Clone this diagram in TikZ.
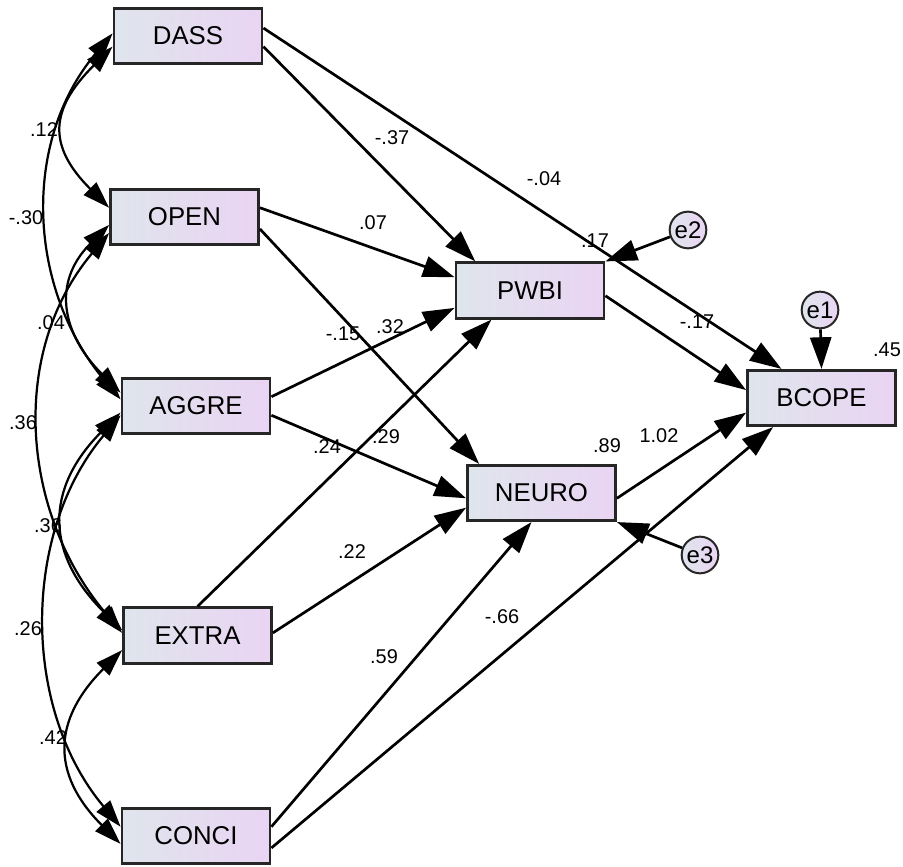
\documentclass[tikz,border=0pt]{standalone}
\usepackage{fontspec}
\setmainfont{Liberation Sans}
\usetikzlibrary{arrows.meta}
\definecolor{boxL}{RGB}{223,229,236}
\definecolor{boxR}{RGB}{234,212,243}
\begin{document}
\begin{tikzpicture}[
		x=0.03cm, y=0.03cm,
		var/.style = {rectangle, draw=black!85, line width=2.4pt, left color=boxL, right color=boxR, minimum width=4.44cm, minimum height=1.66cm, inner sep=0pt, font=\fontsize{22}{24}\selectfont},
		err/.style = {circle, draw=black!85, line width=1.7pt, left color=boxL, right color=boxR, minimum size=1.1cm, inner sep=0pt, font=\fontsize{20.5}{22}\selectfont},
		reg/.style = {-{Triangle[length=27pt, width=18pt]}, line width=2.3pt},
		cov/.style = {{Triangle[length=23pt, width=15pt]}-{Triangle[length=23pt, width=15pt]}, line width=1.9pt},
		est/.style = {inner sep=0pt, font=\fontsize{17}{19}\selectfont}
		]
		\useasboundingbox (0,0) rectangle (903,866);
		
		%Nodes
		\node[var]	(DASS)	at	(188, 830)		{DASS};
		\node[var]	(OPEN)	at	(184.5, 649)	{OPEN};
		\node[var]	(AGGRE)	at	(196, 460)		{AGGRE};
		\node[var]	(EXTRA)	at	(197.5, 230.5)	{EXTRA};
		\node[var]	(CONCI)	at	(196, 30)		{CONCI};
		\node[var]	(PWBI)	at	(530, 575.5)	{PWBI};
		\node[var]	(NEURO)	at	(541.5, 373)	{NEURO};
		\node[var]	(BCOPE)	at	(821.5, 468)	{BCOPE};
		\node[err]	(e2)	at	(688, 636)		{e2};
		\node[err]	(e1)	at	(820, 556)		{e1};
		\node[err]	(e3)	at	(700, 311)		{e3};
		
		%Paths
		\draw[reg]	(DASS.-8)		--	(PWBI.152);
		\draw[reg]	(DASS.6)		--	(BCOPE.144);
		\draw[reg]	(OPEN.7)		--	(PWBI.170);
		\draw[reg]	(OPEN.-9)		--	(NEURO.155);
		\draw[reg]	(AGGRE.7)		--	(PWBI.-167);
		\draw[reg]	(AGGRE.-7)		--	(NEURO.184);
		\draw[reg]	(EXTRA.north)	--	(PWBI.217);
		\draw[reg]	(EXTRA.2)		--	(NEURO.191);
		\draw[reg]	(CONCI.7)		--	(NEURO.251);
		\draw[reg]	(CONCI.-9)		--	(BCOPE.211);
		\draw[reg]	(PWBI.-4)		--	(BCOPE.174);
		\draw[reg]	(NEURO.-4)		--	(BCOPE.191);
		\draw[reg]	(e2)			--	(PWBI.north east);
		\draw[reg]	(e1)			--	(BCOPE.north);
		\draw[reg]	(e3)			--	(NEURO.south east);
		
		%Covariances
		\draw[cov]	(DASS.188)	to[out=225, in=135, looseness=1.4]	(OPEN.173);
		\draw[cov]	(DASS.178)	to[out=230, in=130, looseness=1.0]	(AGGRE.175);
		\draw[cov]	(OPEN.186)	to[out=225, in=135, looseness=1.25]	(AGGRE.170);
		\draw[cov]	(OPEN.192)	to[out=230, in=130, looseness=1.0]	(EXTRA.178);
		\draw[cov]	(AGGRE.185)	to[out=225, in=135, looseness=1.27]	(EXTRA.176);
		\draw[cov]	(AGGRE.187)	to[out=230, in=130, looseness=0.96]	(CONCI.173);
		\draw[cov]	(EXTRA.191)	to[out=225, in=135, looseness=1.3]	(CONCI.186);
		
		%Estimates
		\node[est]	(cDO)	at	(44, 736)	{.12};
		\node[est]	(cDA)	at	(26, 648)	{-.30};
		\node[est]	(cOA)	at	(51, 543)	{.04};
		\node[est]	(cOE)	at	(23, 443)	{.36};
		\node[est]	(cAE)	at	(48, 340)	{.36};
		\node[est]	(cAC)	at	(28, 237)	{.26};
		\node[est]	(cEC)	at	(53, 128)	{.42};
		\node[est]	(wDP)	at	(392, 728)	{-.37};
		\node[est]	(wDB)	at	(544, 687)	{-.04};
		\node[est]	(wOP)	at	(373, 643)	{.07};
		\node[est]	(rPWBI)	at	(595, 625)	{.17};
		\node[est]	(wON)	at	(343, 532)	{-.15};
		\node[est]	(wAP)	at	(390, 539)	{.32};
		\node[est]	(wAN)	at	(327, 419)	{.24};
		\node[est]	(wEP)	at	(386, 429)	{.29};
		\node[est]	(wEN)	at	(352, 314)	{.22};
		\node[est]	(wCN)	at	(384, 209)	{.59};
		\node[est]	(wCB)	at	(502, 249)	{-.66};
		\node[est]	(rNEURO)	at	(607, 420)	{.89};
		\node[est]	(wNB)	at	(659, 430)	{1.02};
		\node[est]	(wPB)	at	(697, 544)	{-.17};
		\node[est]	(rBCOPE)	at	(887, 516)	{.45};
	\end{tikzpicture}
\end{document}
